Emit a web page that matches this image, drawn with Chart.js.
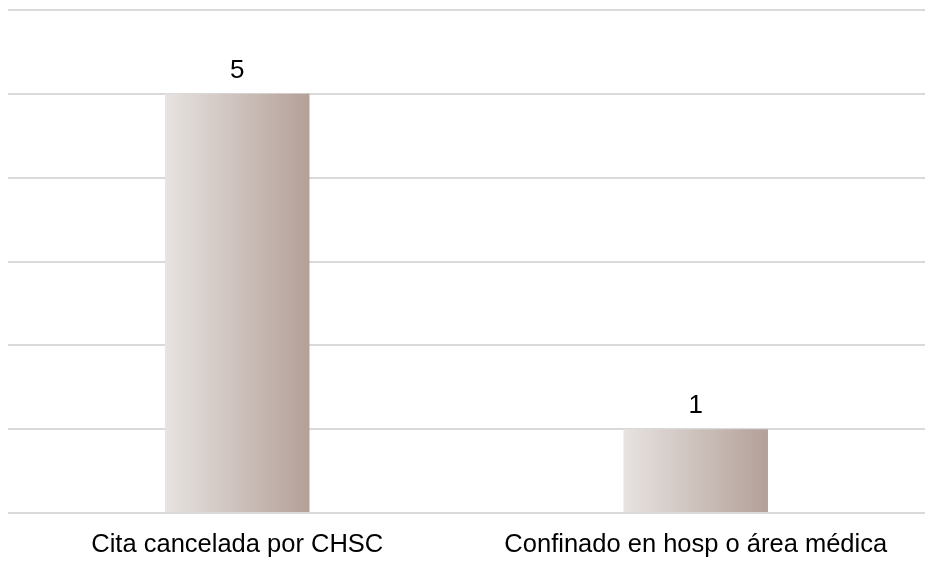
<!DOCTYPE html>
<html>
<head>
<meta charset="utf-8">
<script src="https://cdn.jsdelivr.net/npm/chart.js@4/dist/chart.umd.min.js"></script>
<style>
  html, body { margin: 0; padding: 0; background: #fff; }
  #wrap { width: 925px; height: 561px; }
</style>
</head>
<body>
<div id="wrap"><canvas id="barChart"></canvas></div>
<script>
// Datos
const categorias = ['Cita cancelada por CHSC', 'Confinado en hosp o área médica'];
const valores = [5, 1];
const ejeMin = 0;
const ejeMax = 6;
const paso = 1;

const fuente = '"Liberation Sans", Arial, sans-serif';

// Degradado horizontal por barra (scriptable, así no se comparte entre barras)
function colorBarra(context) {
    const chart = context.chart;
    const meta = chart.getDatasetMeta(context.datasetIndex);
    const bar = meta.data[context.dataIndex];
    if (!bar || !bar.width) {
        return '#cfc4c0';
    }
    const izq = bar.x - bar.width / 2;
    const der = bar.x + bar.width / 2;
    const g = chart.ctx.createLinearGradient(izq, 0, der, 0);
    g.addColorStop(0, '#e7e3e1');
    g.addColorStop(1, '#b4a098');
    return g;
}

// Reaplicar el degradado con las posiciones finales
const degradadoBarras = {
    id: 'degradadoBarras',
    beforeDatasetsDraw(chart) {
        const meta = chart.getDatasetMeta(0);
        meta.data.forEach((bar, i) => {
            bar.options.backgroundColor = colorBarra({ chart, datasetIndex: 0, dataIndex: i });
        });
    }
};

// Etiquetas de valor sobre las barras
const etiquetasValor = {
    id: 'etiquetasValor',
    afterDatasetsDraw(chart) {
        const ctx = chart.ctx;
        ctx.save();
        ctx.font = '26px ' + fuente;
        ctx.fillStyle = '#000000';
        ctx.textAlign = 'center';
        ctx.textBaseline = 'alphabetic';
        chart.getDatasetMeta(0).data.forEach((bar, i) => {
            ctx.fillText(String(valores[i]), bar.x, bar.y - 16);
        });
        ctx.restore();
    }
};

const ctx = document.getElementById('barChart').getContext('2d');
new Chart(ctx, {
    type: 'bar',
    data: {
        labels: categorias,
        datasets: [{
            data: valores,
            backgroundColor: colorBarra,
            borderWidth: 0,
            barPercentage: 0.63,
            categoryPercentage: 0.5
        }]
    },
    options: {
        responsive: true,
        maintainAspectRatio: false,
        animation: false,
        layout: { padding: { left: 8, right: 0, top: 10, bottom: 0 } },
        plugins: {
            legend: { display: false },
            tooltip: { enabled: false }
        },
        scales: {
            x: {
                grid: { display: false, drawTicks: false },
                border: { display: false },
                ticks: {
                    color: '#000000',
                    padding: 17,
                    maxRotation: 0,
                    font: { family: fuente, size: 25.5 }
                },
                afterFit(scale) {
                    scale.height = 48;
                }
            },
            y: {
                min: ejeMin,
                max: ejeMax,
                ticks: { display: false, stepSize: paso },
                grid: { color: '#d9d9d9', lineWidth: 2, drawTicks: false },
                border: { display: false }
            }
        }
    },
    plugins: [degradadoBarras, etiquetasValor]
});
</script>
</body>
</html>
